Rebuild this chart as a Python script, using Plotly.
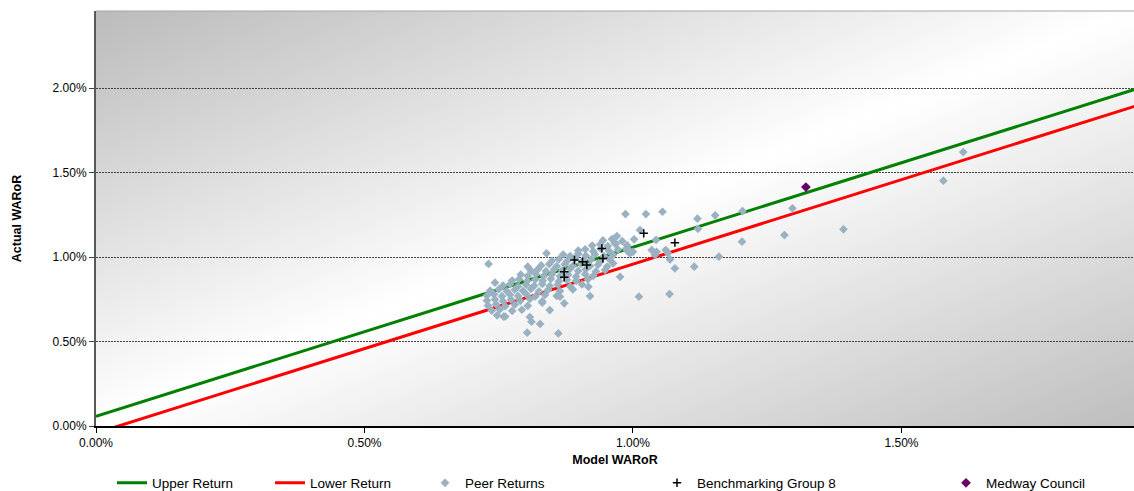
import base64
import plotly.graph_objects as go

# ---- data (values in percent) ----
line_x = [0.0, 2.0]
upper_y = [0.058, 2.058]
lower_y = [-0.042, 1.958]

peer_x = [
    0.944, 0.961, 0.980,
    0.924, 0.939, 0.953, 0.968, 0.989,
    0.898, 0.911, 0.926, 0.940, 0.955, 0.972, 0.994,
    0.870, 0.883, 0.898, 0.912, 0.929, 0.946, 0.963,
    0.849, 0.862, 0.877, 0.892, 0.907, 0.922, 0.939, 0.957,
    0.829, 0.844, 0.858, 0.873, 0.888, 0.903, 0.920, 0.935, 0.952,
    0.810, 0.823, 0.838, 0.853, 0.868, 0.883, 0.898, 0.912, 0.931,
    0.791, 0.804, 0.819, 0.834, 0.849, 0.864, 0.879, 0.894, 0.911, 0.926,
    0.775, 0.788, 0.803, 0.818, 0.832, 0.847, 0.862, 0.877, 0.894, 0.916,
    0.758, 0.771, 0.786, 0.801, 0.816, 0.831, 0.845, 0.860, 0.883, 0.905,
    0.734, 0.750, 0.765, 0.780, 0.795, 0.810, 0.825, 0.842, 0.864, 0.888,
    0.728, 0.741, 0.756, 0.771, 0.786, 0.801, 0.818, 0.836, 0.858,
    0.728, 0.743, 0.758, 0.773, 0.790, 0.808, 0.831,
    0.730, 0.745, 0.762, 0.780, 0.804,
    0.737, 0.752, 0.775, 0.793,
    0.747, 0.762,
    0.986, 1.024, 1.055, 1.120, 1.153, 1.121, 0.970, 1.002, 1.013, 1.035,
    1.041, 1.061, 1.065, 1.069, 1.078, 1.114, 1.160, 1.011, 1.068, 0.839,
    0.731, 0.743, 0.803, 0.861, 0.827, 0.808, 0.811, 0.845, 0.864, 0.872,
    0.920, 0.917, 0.831, 0.804, 0.759, 1.204, 1.203, 1.282, 1.297, 1.392,
    1.578, 1.615, 0.966, 0.988, 0.994, 1.043, 1.044, 0.976, 0.948, 0.963,
    1.000, 0.988,
]
peer_y = [
    1.098, 1.106, 1.094,
    1.068, 1.075, 1.064, 1.078, 1.069,
    1.038, 1.046, 1.034, 1.049, 1.037, 1.044, 1.036,
    1.015, 1.006, 1.019, 1.008, 1.016, 1.005, 1.014,
    0.978, 0.987, 0.975, 0.990, 0.979, 0.986, 0.974, 0.984,
    0.950, 0.958, 0.946, 0.957, 0.948, 0.960, 0.947, 0.955, 0.944,
    0.919, 0.928, 0.916, 0.926, 0.920, 0.931, 0.918, 0.927, 0.915,
    0.896, 0.887, 0.899, 0.889, 0.897, 0.886, 0.895, 0.884, 0.898, 0.889,
    0.861, 0.869, 0.858, 0.867, 0.860, 0.871, 0.857, 0.866, 0.859, 0.868,
    0.831, 0.839, 0.827, 0.836, 0.830, 0.841, 0.828, 0.837, 0.826, 0.838,
    0.801, 0.809, 0.798, 0.807, 0.800, 0.811, 0.797, 0.806, 0.799, 0.808,
    0.772, 0.779, 0.768, 0.777, 0.770, 0.781, 0.767, 0.776, 0.770,
    0.742, 0.749, 0.739, 0.748, 0.741, 0.752, 0.738,
    0.713, 0.720, 0.709, 0.718, 0.711,
    0.683, 0.690, 0.681, 0.688,
    0.655, 0.648,
    1.254, 1.254, 1.268, 1.227, 1.247, 1.167, 1.124, 1.105, 1.160, 1.041,
    1.012, 1.041, 1.024, 0.986, 0.933, 0.943, 1.002, 0.765, 0.781, 1.022,
    0.959, 0.848, 0.552, 0.548, 0.604, 0.645, 0.617, 0.686, 0.765, 0.726,
    0.769, 0.824, 0.730, 0.943, 0.647, 1.272, 1.091, 1.130, 1.288, 1.164,
    1.452, 1.621, 1.081, 1.041, 1.022, 1.101, 1.031, 0.883, 0.923, 0.963,
    1.031, 1.051,
]

bench_x = [0.872, 0.872, 0.891, 0.906, 0.914, 0.942, 0.944, 1.020, 1.078]
bench_y = [0.913, 0.880, 0.982, 0.972, 0.953, 1.051, 0.992, 1.140, 1.085]

medway_x = [1.322]
medway_y = [1.414]

x_ticks = [0.0, 0.005, 0.01, 0.015]
y_ticks = [0.0, 0.005, 0.01, 0.015, 0.02]


def pct(v):
    return [a / 100 for a in v]


FONT = "Liberation Sans, Arial, sans-serif"

fig = go.Figure()
fig.add_trace(go.Scatter(x=pct(line_x), y=pct(upper_y), mode="lines", name="Upper Return",
                         line=dict(color="#008000", width=3), legend="legend2", hoverinfo="skip"))
fig.add_trace(go.Scatter(x=pct(line_x), y=pct(lower_y), mode="lines", name="Lower Return",
                         line=dict(color="#FF0000", width=3), legend="legend3", hoverinfo="skip"))
fig.add_trace(go.Scatter(x=pct(peer_x), y=pct(peer_y), mode="markers", name="Peer Returns",
                         marker=dict(symbol="diamond", size=6.7, color="#99B1C0"), legend="legend4"))
fig.add_trace(go.Scatter(x=pct(bench_x), y=pct(bench_y), mode="markers", name="Benchmarking Group 8",
                         marker=dict(symbol="cross-thin-open", size=6, color="#000000",
                                     line=dict(color="#000000", width=1.5)), legend="legend5"))
fig.add_trace(go.Scatter(x=pct(medway_x), y=pct(medway_y), mode="markers", name="Medway Council",
                         marker=dict(symbol="diamond", size=7.5, color="#660066"), legend="legend6"))

svg = ('<svg xmlns="http://www.w3.org/2000/svg" width="100" height="100" viewBox="0 0 100 100" '
       'preserveAspectRatio="none"><defs><linearGradient id="g" x1="0" y1="0" x2="1" y2="1">'
       '<stop offset="0" stop-color="#bbbbbb"/><stop offset="0.5" stop-color="#ffffff"/>'
       '<stop offset="1" stop-color="#bebebe"/></linearGradient></defs>'
       '<rect width="100" height="100" fill="url(#g)"/></svg>')
svg_uri = "data:image/svg+xml;base64," + base64.b64encode(svg.encode()).decode()

W, H = 1134, 491
leg_y = 1 - 483 / H


def leg(px):
    return dict(orientation="h", bgcolor="rgba(0,0,0,0)", borderwidth=0,
                font=dict(family=FONT, size=13.5, color="#000000"),
                xref="container", yref="container", xanchor="left", yanchor="middle",
                y=leg_y, x=px / W)


fig.update_layout(
    width=W, height=H,
    margin=dict(l=96, r=0, t=11, b=H - 426, autoexpand=False),
    paper_bgcolor="#FFFFFF",
    plot_bgcolor="rgba(0,0,0,0)",
    font=dict(family=FONT, size=12, color="#000000"),
    images=[dict(source=svg_uri, xref="paper", yref="paper", x=0, y=1, sizex=1, sizey=1,
                 xanchor="left", yanchor="top", sizing="stretch", layer="below")],
    shapes=[dict(type="line", xref="paper", yref="paper", x0=0, x1=1, y0=1, y1=1,
                 line=dict(color="#A6A6A6", width=1))],
    showlegend=True,
    legend2=leg(112),
    legend3=leg(270),
    legend4=leg(425),
    legend5=leg(657),
    legend6=leg(946),
    xaxis=dict(
        range=[0, 0.01933], tickvals=x_ticks, tickformat=".2%",
        showgrid=False, zeroline=False,
        showline=True, linecolor="#000000", linewidth=2,
        ticks="outside", ticklen=5, tickcolor="#000000", tickwidth=1,
        tickfont=dict(family=FONT, size=12, color="#000000"),
        title=dict(text="Model WARoR", font=dict(family=FONT, size=12.5, color="#000000", weight="bold"),
                   standoff=13),
    ),
    yaxis=dict(
        range=[0, 0.02456], tickvals=y_ticks, tickformat=".2%",
        showgrid=True, gridcolor="#404040", griddash="2px,1px", gridwidth=1,
        zeroline=False,
        showline=True, linecolor="#595959", linewidth=2,
        ticks="outside", ticklen=5, tickcolor="#404040", tickwidth=1,
        tickfont=dict(family=FONT, size=12, color="#000000"),
        title=dict(text="Actual WARoR", font=dict(family=FONT, size=12.5, color="#000000", weight="bold"),
                   standoff=28),
    ),
)

fig.write_html("out.html",
               config={"displayModeBar": False},
               post_script="document.body.style.margin='0';document.body.style.overflow='hidden';")
